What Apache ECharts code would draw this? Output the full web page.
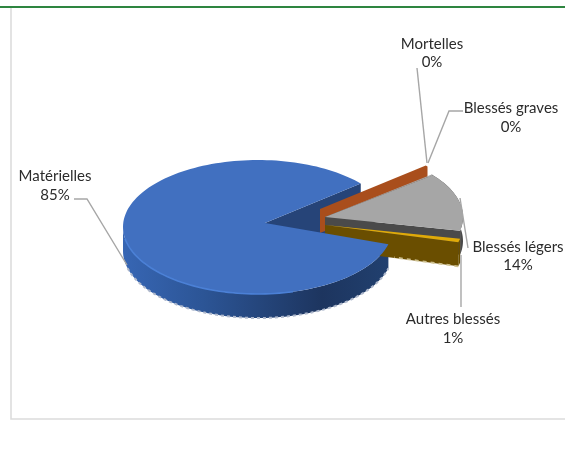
<!DOCTYPE html>
<html><head><meta charset="utf-8">
<style>html,body{margin:0;padding:0;background:#fff}#c{width:565px;height:449px}</style>
<script src="https://cdn.jsdelivr.net/npm/echarts@6/dist/echarts.min.js"></script>
</head><body><div id="c"></div>
<script>
const categories = ['Matérielles','Mortelles','Blessés graves','Blessés légers','Autres blessés'];
const values = [84.6, 0.3, 0.2, 14, 0.9];
const startAngle = 15;
const colors = ['#4170c0','#a94e1c','#a6a6a6','#a6a6a6','#e0aa08'];
const wallColors = ['#1f3864','#a94e1c','#4a4a4a','#4a4a4a','#6a4e00'];
const centers = [[258,227],[320,209],[325,217],[325,217],[325,225]];
const apexes = [[265,223],[320,209],[325,217],[325,217],[325,225]];
const radii = [[135,67],[139,67],[138,67],[138,67],[138,67]];
const depth = 24;
const labelBoxes = [
  {x:55,y:185.5,line:[[74,199],[87,199],[127,265]]},
  {x:432,y:53,line:[[417,68],[427,163]]},
  {x:511,y:117.5,line:[[463,111],[449,111],[428,163]]},
  {x:518,y:256,line:[[468,248],[460,198]]},
  {x:453,y:328.5,line:[[461,307],[461,255]]}
];
const total = values.reduce((a,b)=>a+b,0);
let acc = startAngle;
const spans = values.map(v=>{const s=acc; acc+=v/total*360; return [s,acc];});
const rad = d=>d*Math.PI/180;
function rim(i,a,dy){const c=centers[i],r=radii[i];return [c[0]+r[0]*Math.cos(rad(a)),c[1]+r[1]*Math.sin(rad(a))+(dy||0)];}
function arc(i,a,b,dy){const p=[];const n=Math.max(2,Math.ceil(Math.abs(b-a)/2));for(let k=0;k<=n;k++)p.push(rim(i,a+(b-a)*k/n,dy));return p;}
function poly(points,style,z2){return {type:'polygon',shape:{points},style,z2,silent:true};}
function line(points,stroke,width,z2,dash){return {type:'polyline',shape:{points},style:{stroke,lineWidth:width,fill:null,lineDash:dash||null},z2,silent:true};}

function renderItem(params){
  const i=params.dataIndex,[a,b]=spans[i],c=apexes[i],ch=[];
  const bottom=[c[0],c[1]+depth];
  const top=[c].concat(arc(i,a,b));
  if(i===0){
    // cut wall seen through the notch: its foot runs under the blue top face and the exploded slices
    ch.push(poly([c,rim(0,b),rim(0,b,depth),[c[0]+70,c[1]+depth],bottom],{fill:'#264478'},1));
    ch.push(poly(arc(0,a,180).concat(arc(0,180,a,depth)),{fill:new echarts.graphic.LinearGradient(0,0,1,0,[
      {offset:0,color:'#3766b4'},{offset:.3,color:'#2c5596'},{offset:.75,color:'#1d355f'},{offset:1,color:'#21406f'}])},2));
    ch.push(poly(top,{fill:colors[0]},5));
    ch.push(line(arc(0,170,75,0),'#4b80d6',1.6,6));
    ch.push(line(arc(0,165,15,depth),'#aeb8cc',2,6,[3,3]));
  } else if(i===1){
    ch.push(poly([c,rim(1,a),rim(1,b),rim(1,b,depth),bottom],{fill:colors[1]},2));
  } else if(i===2||i===3){
    ch.push(poly(arc(i,a,b).concat(arc(i,b,a,depth)),{fill:wallColors[i]},3));
    ch.push(poly([c,rim(i,b),rim(i,b,depth),bottom],{fill:wallColors[i]},3));
    ch.push(poly(top,{fill:colors[i]},10));
  } else {
    ch.push(poly([c,rim(i,b),rim(i,b,depth),bottom],{fill:wallColors[i]},4));
    ch.push(poly(arc(i,a,b).concat(arc(i,b,a,depth)),{fill:wallColors[i]},4));
    ch.push(line([rim(i,b,depth),[rim(i,b,0)[0]-64,rim(i,b,depth-9)[1]]],'#cdbf8d',1.8,4,[4,4]));
    ch.push(poly(top,{fill:colors[i]},11));
  }
  const lb=labelBoxes[i];
  ch.push(line(lb.line,'#a6a6a6',1.4,20));
  ch.push({type:'text',x:lb.x,y:lb.y,z2:21,silent:true,style:{
    text:categories[i]+'\n'+Math.round(values[i])+'%',
    font:'15px Lato, "Open Sans", sans-serif',lineHeight:18.5,fill:'#2b2b2b',align:'center',verticalAlign:'middle'}});
  return {type:'group',children:ch};
}
const chart=echarts.init(document.getElementById('c'),null,{renderer:'canvas'});
chart.setOption({
  animation:false,backgroundColor:'#fff',
  graphic:[
    {type:'rect',shape:{x:0,y:6,width:565,height:2},style:{fill:'#2e8540'},silent:true},
    {type:'polyline',shape:{points:[[11,8],[11,419],[565,419]]},style:{stroke:'#dcdcdc',lineWidth:1.6,fill:null},silent:true}
  ],
  series:[{type:'custom',coordinateSystem:'none',renderItem,data:values.map((v,i)=>({name:categories[i],value:v}))}]
});
</script></body></html>
